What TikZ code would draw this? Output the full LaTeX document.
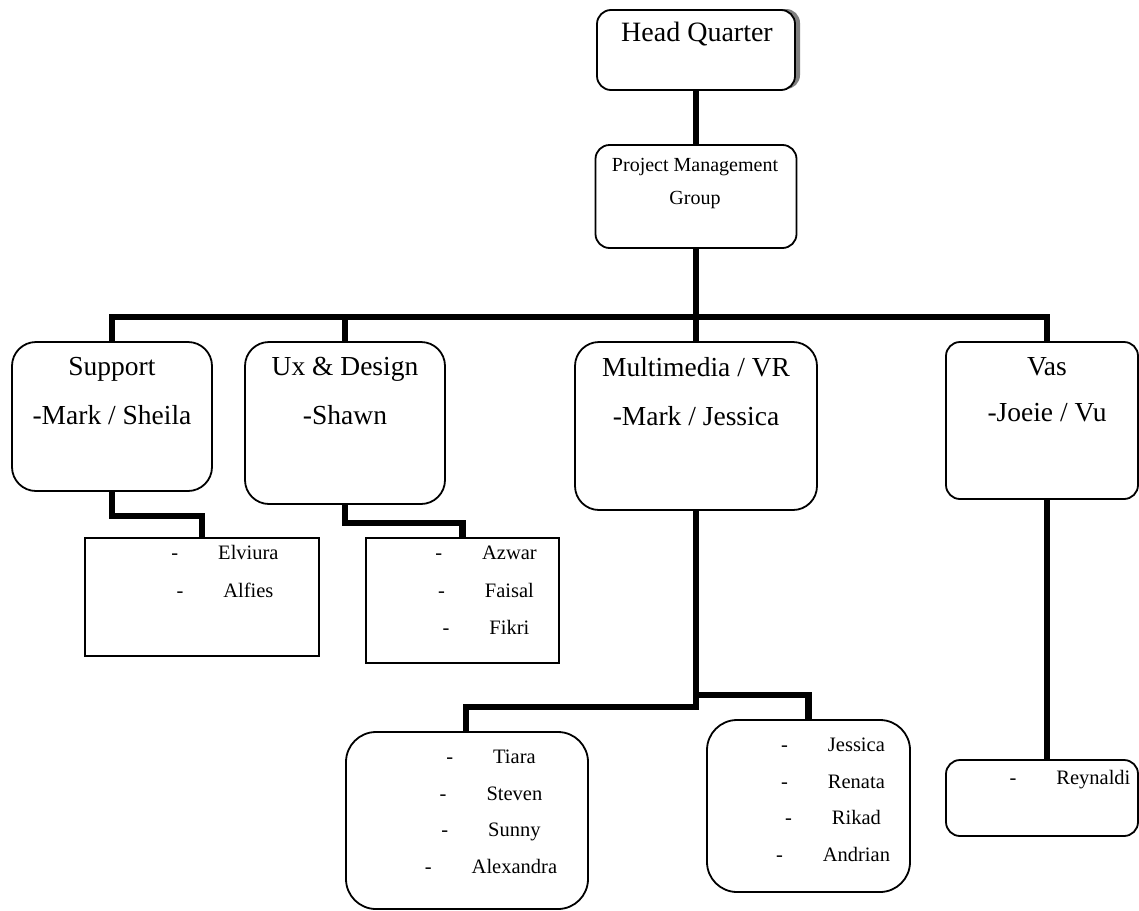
\documentclass[tikz,border=0pt]{standalone}
\usepackage{fontspec}
\setmainfont{Liberation Serif}
\usepackage{xcolor}
\usetikzlibrary{calc,shadows}
\definecolor{shadowgray}{HTML}{7F7F7F}
\tikzstyle{topbox} = [
    draw,
    rectangle,
    rounded corners=14pt,
    line width=1.8pt,
    fill=white,
    inner sep=0pt
    ]
\tikzstyle{unitbox} = [
    draw,
    rectangle,
    rounded corners=24pt,
    line width=1.8pt,
    inner sep=0pt
    ]
\tikzstyle{listbox} = [
    draw,
    rectangle,
    line width=1.8pt,
    inner sep=0pt
    ]
\tikzstyle{hqtext} = [font=\fontsize{28}{33}\selectfont, anchor=base, inner sep=0pt]
\tikzstyle{bigtext} = [font=\fontsize{27.5}{33}\selectfont, anchor=base, inner sep=0pt]
\tikzstyle{pmtext} = [font=\fontsize{20}{24}\selectfont, anchor=base, inner sep=0pt]
\tikzstyle{smalltext} = [font=\fontsize{20.5}{25}\selectfont, anchor=base, inner sep=0pt]
\tikzstyle{link} = [line width=6.5pt]
\newcommand{\member}[1]{-\hspace{40pt}#1}

\begin{document}
\begin{tikzpicture}[x=1pt, y=-1pt]
\fill[white] (0,0) rectangle (1139,910);
\useasboundingbox (0,0) rectangle (1139,910);

% boxes
\node[topbox, minimum width=198pt, minimum height=80pt,
    drop shadow={shadow xshift=5pt, shadow yshift=1pt, fill=shadowgray, opacity=1}] (hq) at (696,50) {};
\node[topbox, minimum width=201pt, minimum height=103pt] (pmg) at (696,196.5) {};
\node[unitbox, minimum width=200pt, minimum height=149pt] (support) at (112,416.5) {};
\node[unitbox, minimum width=200pt, minimum height=162pt] (ux) at (345,423) {};
\node[unitbox, minimum width=242pt, minimum height=168pt] (multi) at (696,426) {};
\node[unitbox, rounded corners=14pt, minimum width=192pt, minimum height=157pt] (vas) at (1042,420.5) {};
\node[listbox, minimum width=234pt, minimum height=118pt] (elv) at (202,597) {};
\node[listbox, minimum width=193pt, minimum height=125pt] (azw) at (462.5,600.5) {};
\node[unitbox, rounded corners=30pt, minimum width=242pt, minimum height=177pt] (tia) at (467,820.5) {};
\node[unitbox, rounded corners=30pt, minimum width=203pt, minimum height=172pt] (jes) at (808.5,806) {};
\node[unitbox, rounded corners=14pt, minimum width=192pt, minimum height=76pt] (rey) at (1042,798) {};

% connectors
\coordinate (bus) at (696,317);
\coordinate (mmjoin) at (696,695);
\draw[link] (hq) -- (pmg);
\draw[link] (pmg) -- (multi);
\draw[link] (support.north) |- (bus) -| ([xshift=5pt]vas.north);
\draw[link] (ux.north) -- (ux.north |- bus);
\draw[link] (support.south) -- ++(0,24) -| (elv.north);
\draw[link] (ux.south) -- ++(0,18) -| (azw.north);
\draw[link] (multi.south) -- ++(0,196) -| ([xshift=-1pt]tia.north);
\draw[link] (mmjoin) -| (jes.north);
\draw[link] ([xshift=5pt]vas.south) -- ([xshift=5pt]rey.north);

% texts
\node[hqtext] (hq-t) at (697,41) {Head Quarter};
\node[pmtext] (pmg-t1) at (695,171.5) {Project Management};
\node[pmtext] (pmg-t2) at (695,204.5) {Group};
\node[bigtext] (support-t1) at (112,375) {Support};
\node[bigtext] (support-t2) at (112,424) {-Mark / Sheila};
\node[bigtext] (ux-t1) at (345,375) {Ux \& Design};
\node[bigtext] (ux-t2) at (345,424) {-Shawn};
\node[bigtext] (multi-t1) at (696,376) {Multimedia / VR};
\node[bigtext] (multi-t2) at (696,425) {-Mark / Jessica};
\node[bigtext] (vas-t1) at (1047,375) {Vas};
\node[bigtext] (vas-t2) at (1047,421) {-Joeie / Vu};

% members
\foreach \who [count=\i] in {Elviura,Alfies}
    \node[smalltext] (elv-\i) at (225,521.5+38*\i) {\member{\who}};
\foreach \who [count=\i] in {Azwar,Faisal,Fikri}
    \node[smalltext] (azw-\i) at (486,522+37.5*\i) {\member{\who}};
\foreach \who [count=\i] in {Tiara,Steven,Sunny,Alexandra}
    \node[smalltext] (tia-\i) at (491,727+36.5*\i) {\member{\who}};
\foreach \who [count=\i] in {Jessica,Renata,Rikad,Andrian}
    \node[smalltext] (jes-\i) at (833,715+36.5*\i) {\member{\who}};
\node[smalltext] (rey-1) at (1070,784.5) {\member{Reynaldi}};
\end{tikzpicture}
\end{document}
